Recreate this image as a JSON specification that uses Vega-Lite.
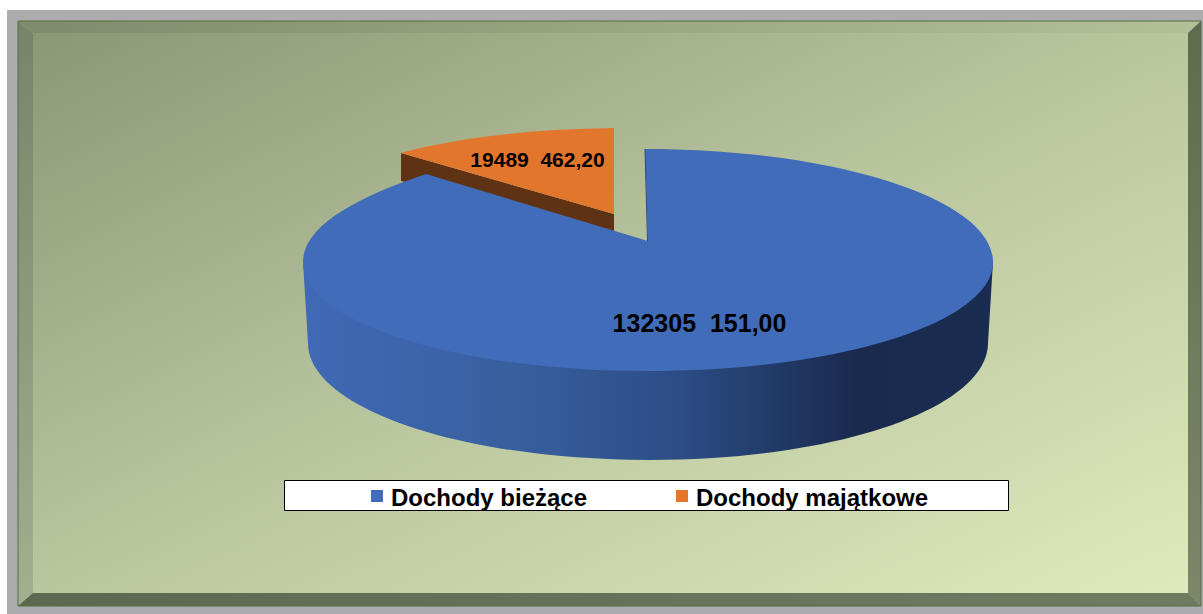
{"$schema":"https://vega.github.io/schema/vega-lite/v6.json","width":1203,"height":614,"padding":0,"autosize":{"type":"fit","contains":"padding"},"background":"white","view":{"stroke":null},"data":{"values":[{"kategoria":"Dochody bieżące","wartosc":132305151.00,"etykieta":"132305 \u00a0151,00"},{"kategoria":"Dochody majątkowe","wartosc":19489462.20,"etykieta":"19489 \u00a0462,20"}]},"layer":[
{"transform":[{"filter":"datum.kategoria==='Dochody bieżące'"}],"mark":{"type":"point","filled":true,"opacity":1,"size":4,"shape":"M-594.5,-297 L601.5,-297 L601.5,307 L-594.5,307 Z","fill":"#acacae"},"encoding":{}},
{"transform":[{"filter":"datum.kategoria==='Dochody bieżące'"}],"mark":{"type":"point","filled":true,"opacity":1,"size":4,"shape":"M-568.5,-274 L586.5,-274 L586.5,286 L-568.5,286 Z","fill":{"gradient":"linear","x1":0,"y1":0,"x2":1,"y2":1,"stops":[{"offset":0,"color":"#8b9877"},{"offset":0.5,"color":"#bac69e"},{"offset":1,"color":"#dfe9bd"}]}},"encoding":{}},
{"transform":[{"filter":"datum.kategoria==='Dochody bieżące'"}],"mark":{"type":"point","filled":true,"opacity":1,"size":4,"shape":"M-583.5,-286 L599.5,-286 L586.5,-274 L-568.5,-274 Z","fill":{"gradient":"linear","x1":0,"y1":0,"x2":1,"y2":0,"stops":[{"offset":0,"color":"#7f8c6c"},{"offset":1,"color":"#b4c098"}]}},"encoding":{}},
{"transform":[{"filter":"datum.kategoria==='Dochody bieżące'"}],"mark":{"type":"point","filled":true,"opacity":1,"size":4,"shape":"M-583.5,-286 L-568.5,-274 L-568.5,286 L-583.5,299 Z","fill":{"gradient":"linear","x1":0,"y1":0,"x2":0,"y2":1,"stops":[{"offset":0,"color":"#76846a"},{"offset":1,"color":"#a2b08e"}]}},"encoding":{}},
{"transform":[{"filter":"datum.kategoria==='Dochody bieżące'"}],"mark":{"type":"point","filled":true,"opacity":1,"size":4,"shape":"M599.5,-286 L599.5,299 L586.5,286 L586.5,-274 Z","fill":{"gradient":"linear","x1":0,"y1":0,"x2":0,"y2":1,"stops":[{"offset":0,"color":"#5e6c4e"},{"offset":1,"color":"#7c8868"}]}},"encoding":{}},
{"transform":[{"filter":"datum.kategoria==='Dochody bieżące'"}],"mark":{"type":"point","filled":true,"opacity":1,"size":4,"shape":"M-583.5,299 L599.5,299 L586.5,286 L-568.5,286 Z","fill":{"gradient":"linear","x1":0,"y1":0,"x2":1,"y2":0,"stops":[{"offset":0,"color":"#5c6850"},{"offset":1,"color":"#707c62"}]}},"encoding":{}},
{"transform":[{"filter":"datum.kategoria==='Dochody bieżące'"}],"mark":{"type":"point","filled":false,"opacity":1,"size":4,"shape":"M-583.5,-286 L599.5,-286 L599.5,299 L-583.5,299 Z","stroke":"#4f6f3f","strokeWidth":1},"encoding":{}},
{"transform":[{"filter":"datum.kategoria==='Dochody bieżące'"}],"mark":{"type":"point","filled":true,"opacity":1,"size":4,"shape":"M-317,173.5 L407,173.5 L407,203.5 L-317,203.5 Z","fill":"white","stroke":"black","strokeWidth":1},"encoding":{}},
{"transform":[{"filter":"datum.kategoria==='Dochody majątkowe'"}],"mark":{"type":"point","filled":true,"opacity":1,"size":4,"shape":"M-200.5,-154 L12.5,-93 L12.5,-75 L-200.5,-126 Z","fill":"#5f3213"},"encoding":{}},
{"transform":[{"filter":"datum.kategoria==='Dochody majątkowe'"}],"mark":{"type":"point","filled":true,"opacity":1,"size":4,"shape":"M-200.5,-154 C-141.5,-170 -66.5,-178 12.5,-179 L12.5,-93 Z"},"encoding":{"color":{"field":"kategoria","type":"nominal","scale":{"domain":["Dochody bieżące","Dochody majątkowe"],"range":["#416cba","#e3762d"]},"legend":{"title":null,"orient":"none","legendX":365,"legendY":484,"direction":"horizontal","columns":2,"padding":0,"symbolType":"square","symbolSize":144,"symbolStrokeWidth":0,"symbolOpacity":1,"labelFont":"Liberation Sans","labelFontSize":24,"labelFontWeight":"bold","labelColor":"black","labelOffset":2,"labelLimit":400,"columnPadding":82,"encode":{"labels":{"update":{"dy":{"value":3}}}}}}}},
{"transform":[{"filter":"datum.kategoria==='Dochody bieżące'"}],"mark":{"type":"point","filled":true,"opacity":1,"size":4,"shape":"M-298.5,-45 L-293.5,36 C-293.5,101 -141.5,153 48.5,153 C236.5,153 386.5,101 386.5,36 L391.5,-45 Z","fill":{"gradient":"linear","x1":0,"y1":0,"x2":1,"y2":0,"stops":[{"offset":0,"color":"#4069b6"},{"offset":0.3,"color":"#38609f"},{"offset":0.55,"color":"#2c4c85"},{"offset":0.8,"color":"#192a4e"},{"offset":1,"color":"#1a2c50"}]}},"encoding":{}},
{"transform":[{"filter":"datum.kategoria==='Dochody bieżące'"}],"mark":{"type":"point","filled":true,"opacity":1,"size":4,"shape":"M43.5,-158 C233.5,-158 391.5,-108 391.5,-45 C391.5,16 236.5,64 46.5,64 C-143.5,64 -298.5,16 -298.5,-45 C-298.5,-81 -244.5,-110 -175.5,-133 L46.5,-66 Z"},"encoding":{"color":{"field":"kategoria","type":"nominal"}}},
{"transform":[{"filter":"datum.kategoria==='Dochody bieżące'"}],"mark":{"type":"point","filled":true,"opacity":1,"size":4,"shape":"M43,-158 L44,-158 L46.5,-66 L45.5,-66 Z","fill":"#2a4a80"},"encoding":{}},
{"transform":[{"filter":"datum.kategoria==='Dochody bieżące'"}],"mark":{"type":"text","font":"Liberation Sans","fontWeight":"bold","fontSize":25,"color":"black","dx":98,"dy":17,"align":"center","baseline":"middle"},"encoding":{"text":{"field":"etykieta"}}},
{"transform":[{"filter":"datum.kategoria==='Dochody majątkowe'"}],"mark":{"type":"text","font":"Liberation Sans","fontWeight":"bold","fontSize":21,"color":"black","dx":-64,"dy":-146,"align":"center","baseline":"middle"},"encoding":{"text":{"field":"etykieta"}}}
]}
